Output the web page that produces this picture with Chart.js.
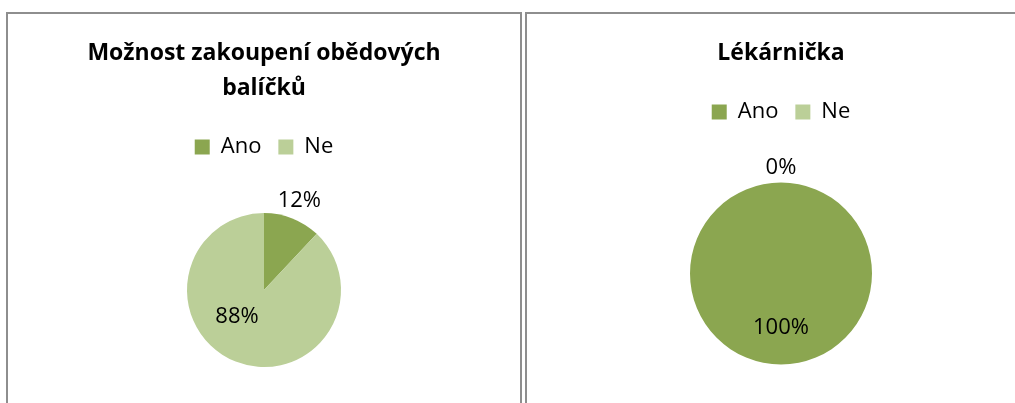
<!DOCTYPE html>
<html>
<head>
<meta charset="utf-8">
<script src="https://cdn.jsdelivr.net/npm/chart.js@4"></script>
<style>
  html, body { margin: 0; padding: 0; background: #fff; overflow: hidden; width: 1015px; height: 403px; }
  .panel { position: absolute; top: 12px; height: 430px; box-sizing: border-box;
           border: 2px solid #8e8e8e; border-bottom: none; }
  .box { position: absolute; }
</style>
</head>
<body>
<div class="panel" style="left:6px; width:516px;"></div>
<div class="panel" style="left:525px; width:520px; border-right:none;"></div>

<div class="box" style="left:8px; top:14px; width:512px; height:420px;"><canvas id="lunchChart"></canvas></div>
<div class="box" style="left:527px; top:14px; width:508px; height:420px;"><canvas id="aidChart"></canvas></div>

<script>
// Data
const categories = ['Ano', 'Ne'];
const lunchValues = [12, 88];
const aidValues = [100, 0];
const lunchTitle = ['Možnost zakoupení obědových', 'balíčků'];
const aidTitle = 'Lékárnička';

const colors = ['#8ba650', '#bbcf98'];
const FONT = '"Open Sans", "DejaVu Sans", sans-serif';

// percent labels: small slices outside the pie, the rest inside
// (nudge = small per-slice shift, like Excel's "best fit")
const pieLabels = {
    id: 'pieLabels',
    afterDatasetsDraw(chart, args, opts) {
        const ctx = chart.ctx;
        const values = chart.data.datasets[0].data;
        const total = values.reduce((a, b) => a + b, 0);
        const meta = chart.getDatasetMeta(0);
        const nudge = opts.nudge || [];
        ctx.save();
        ctx.font = '22px ' + FONT;
        ctx.fillStyle = '#000';
        ctx.textAlign = 'center';
        ctx.textBaseline = 'middle';
        meta.data.forEach((arc, i) => {
            const p = arc.getProps(['x', 'y', 'startAngle', 'endAngle', 'outerRadius'], true);
            const share = values[i] / total;
            const mid = (p.startAngle + p.endAngle) / 2;
            const dist = share < 0.25 ? p.outerRadius + 19 : p.outerRadius * 0.6;
            const n = nudge[i] || [0, 0];
            ctx.fillText(Math.round(share * 100) + '%',
                p.x + Math.cos(mid) * dist + n[0], p.y + Math.sin(mid) * dist + n[1]);
        });
        ctx.restore();
    }
};

function makePie(id, title, values, radius, bottomPad, nudge) {
    new Chart(document.getElementById(id), {
        type: 'pie',
        data: {
            labels: categories,
            datasets: [{
                data: values,
                backgroundColor: colors,
                borderWidth: 0,
                radius: radius
            }]
        },
        options: {
            responsive: true,
            maintainAspectRatio: false,
            animation: false,
            layout: { padding: { top: 0, bottom: bottomPad } },
            plugins: {
                title: {
                    display: true,
                    text: title,
                    color: '#000',
                    font: { family: FONT, size: 23, weight: 'bold', lineHeight: '35px' },
                    padding: { top: 22, bottom: 13 }
                },
                legend: {
                    position: 'top',
                    labels: {
                        color: '#000',
                        font: { family: FONT, size: 22 },
                        boxWidth: 15,
                        boxHeight: 15,
                        padding: 17
                    }
                },
                tooltip: { enabled: false },
                pieLabels: { nudge: nudge }
            }
        },
        plugins: [pieLabels]
    });
}

makePie('lunchChart', lunchTitle, lunchValues, 77, 22, [[0, 0], [-10, -16]]);
makePie('aidChart', aidTitle, aidValues, 91, 20, [[0, 0], [0, 4]]);
</script>
</body>
</html>
